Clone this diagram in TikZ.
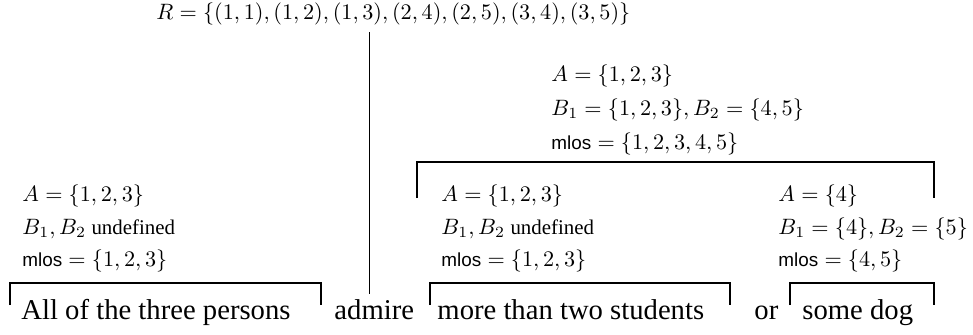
\documentclass[tikz,border=0pt]{standalone}
\usepackage[no-math]{fontspec}
\setmainfont{Liberation Serif}
\setsansfont{Liberation Sans}
\newcommand{\mlosname}{\mbox{\fontsize{8.5}{10}\sffamily mlos}}
\newcommand{\undefword}{\mbox{\fontsize{9.4}{11}\selectfont undefined}}
\begin{document}
\begin{tikzpicture}[x=0.45pt,y=-0.45pt,
  lab/.style={anchor=base west,inner sep=0pt,font=\fontsize{10}{12}\selectfont},
  word/.style={anchor=base west,inner sep=0pt,font=\fontsize{12.9}{15}\selectfont},
  brk/.style={line width=0.5pt}]
\useasboundingbox (0,0) rectangle (973,334);
% top relation
\node[lab] (R) at (156,19.5) {$R=\{(1,1),(1,2),(1,3),(2,4),(2,5),(3,4),(3,5)\}$};
% upper column
\node[lab] (ta) at (551,81) {$A=\{1,2,3\}$};
\node[lab] (tb) at (551,115) {$B_1=\{1,2,3\},B_2=\{4,5\}$};
\node[lab] (tm) at (551,149) {$\mlosname=\{1,2,3,4,5\}$};
% left column
\node[lab] (la) at (22,201) {$A=\{1,2,3\}$};
\node[lab] (lb) at (22,234.5) {$B_1,B_2$ \undefword};
\node[lab] (lm) at (22,266) {$\mlosname=\{1,2,3\}$};
% inner left column
\node[lab] (ma) at (441,201) {$A=\{1,2,3\}$};
\node[lab] (mb) at (441,234.5) {$B_1,B_2$ \undefword};
\node[lab] (mm) at (441,266) {$\mlosname=\{1,2,3\}$};
% inner right column
\node[lab] (ra) at (778,201) {$A=\{4\}$};
\node[lab] (rb) at (778,234.5) {$B_1=\{4\},B_2=\{5\}$};
\node[lab] (rm) at (778,266) {$\mlosname=\{4,5\}$};
% words
\node[word] (w1) at (21,319) {All of the three persons};
\node[word] (w2) at (334,319) {admire};
\node[word] (w3) at (437,319) {more than two students};
\node[word] (w4) at (754,319) {or};
\node[word] (w5) at (802,319) {some dog};
% brackets
\draw[brk] (10,305) -- (10,283) -- (321,283) -- (321,305);
\draw[brk] (430,305) -- (430,283) -- (730,283) -- (730,305);
\draw[brk] (790,305) -- (790,283) -- (934,283) -- (934,305);
\draw[brk] (417,198) -- (417,162) -- (934,162) -- (934,198);
% connector
\draw[brk] ([yshift=-3pt,xshift=-2pt]R.south -| w2.north) -- ([yshift=2.2pt,xshift=-2pt]w2.north);
\end{tikzpicture}
\end{document}
